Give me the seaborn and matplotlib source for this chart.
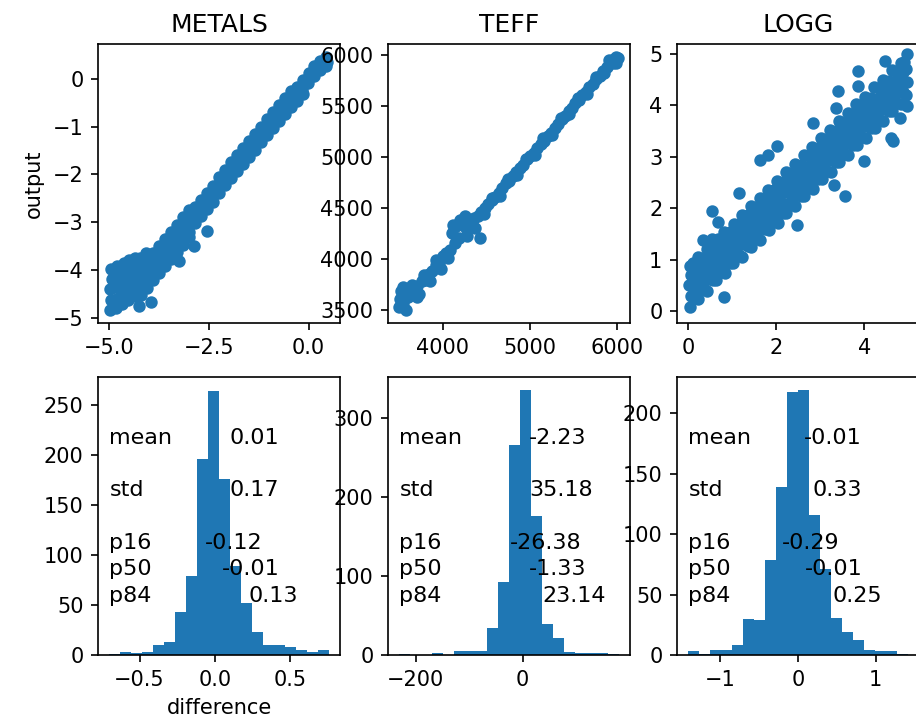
import numpy as np
import pandas as pd
import matplotlib
matplotlib.use("Agg")
import matplotlib.pyplot as plt
import seaborn as sns

# ---------------- data ----------------
panel_titles = ["METALS", "TEFF", "LOGG"]

metals_points = [
    # low end: wide blob
    (-4.97, -4.84), (-4.95, -4.62), (-4.98, -4.40), (-4.94, -4.18), (-4.96, -3.98),
    (-4.82, -4.80), (-4.78, -4.58), (-4.81, -4.35), (-4.79, -4.12), (-4.80, -3.92),
    (-4.67, -4.72), (-4.63, -4.50), (-4.65, -4.28), (-4.66, -4.05), (-4.64, -3.86),
    (-4.52, -4.62), (-4.48, -4.42), (-4.50, -4.20), (-4.49, -3.98), (-4.51, -3.80),
    (-4.37, -4.55), (-4.33, -4.35), (-4.35, -4.15), (-4.36, -3.95), (-4.34, -3.75),
    # lower-middle: broad band
    (-4.22, -3.75), (-4.20, -3.95), (-4.18, -4.10), (-4.21, -4.25), (-4.19, -4.40), (-4.20, -4.52),
    (-4.07, -3.65), (-4.05, -3.80), (-4.03, -3.95), (-4.06, -4.10), (-4.04, -4.25), (-4.05, -4.37),
    (-3.90, -3.65), (-3.88, -3.80), (-3.92, -3.95), (-3.89, -4.10), (-3.91, -4.22),
    (-3.75, -3.50), (-3.73, -3.65), (-3.77, -3.80), (-3.74, -3.95), (-3.76, -4.07),
    (-3.60, -3.35), (-3.58, -3.50), (-3.62, -3.65), (-3.59, -3.80), (-3.61, -3.92),
    (-3.45, -3.20), (-3.43, -3.35), (-3.47, -3.50), (-3.44, -3.65), (-3.46, -3.77),
    (-3.30, -3.05), (-3.28, -3.20), (-3.32, -3.35), (-3.29, -3.50), (-3.31, -3.62),
    (-3.15, -2.90), (-3.13, -3.05), (-3.17, -3.20), (-3.14, -3.35), (-3.16, -3.47),
    (-3.00, -2.75), (-2.98, -2.90), (-3.02, -3.05), (-2.99, -3.20), (-3.01, -3.32),
    # middle
    (-2.85, -2.69), (-2.83, -2.80), (-2.87, -2.91), (-2.84, -3.02),
    (-2.70, -2.54), (-2.68, -2.65), (-2.72, -2.76), (-2.69, -2.87),
    (-2.55, -2.39), (-2.53, -2.50), (-2.57, -2.61), (-2.54, -2.72),
    (-2.40, -2.24), (-2.38, -2.35), (-2.42, -2.46), (-2.39, -2.57),
    (-2.25, -2.05), (-2.23, -2.16), (-2.27, -2.27), (-2.24, -2.38),
    (-2.10, -1.90), (-2.08, -2.01), (-2.12, -2.12), (-2.09, -2.23),
    (-1.95, -1.75), (-1.93, -1.86), (-1.97, -1.97), (-1.94, -2.08),
    (-1.80, -1.60), (-1.78, -1.71), (-1.82, -1.82), (-1.79, -1.93),
    (-1.65, -1.45), (-1.63, -1.56), (-1.67, -1.67), (-1.64, -1.78),
    (-1.50, -1.30), (-1.48, -1.41), (-1.52, -1.52), (-1.49, -1.63),
    (-1.35, -1.15), (-1.33, -1.26), (-1.37, -1.37), (-1.34, -1.48),
    (-1.20, -1.00), (-1.18, -1.11), (-1.22, -1.22), (-1.19, -1.33),
    (-1.05, -0.85), (-1.03, -0.96), (-1.07, -1.07), (-1.04, -1.18),
    (-0.90, -0.70), (-0.88, -0.81), (-0.92, -0.92), (-0.89, -1.03),
    (-0.75, -0.55), (-0.73, -0.66), (-0.77, -0.77), (-0.74, -0.88),
    (-0.60, -0.40), (-0.58, -0.51), (-0.62, -0.62), (-0.59, -0.73),
    (-0.45, -0.25), (-0.43, -0.36), (-0.47, -0.47), (-0.44, -0.58),
    # top end: tapering
    (-0.30, -0.16), (-0.28, -0.27), (-0.32, -0.38), (-0.29, -0.47),
    (-0.15, -0.02), (-0.13, -0.13), (-0.17, -0.24), (-0.14, -0.31),
    (0.00, 0.13), (0.02, 0.02), (-0.02, -0.09),
    (0.15, 0.27), (0.17, 0.16), (0.13, 0.05),
    (0.30, 0.38), (0.32, 0.28), (0.28, 0.18),
    (0.45, 0.46), (0.47, 0.36), (0.43, 0.27),
    # isolated points below the band
    (-4.24, -4.76), (-3.96, -4.67), (-3.24, -3.81), (-2.86, -3.50), (-2.54, -3.18),
]

teff_points = [
    (3500, 3530), (3510, 3600), (3520, 3680), (3540, 3560), (3560, 3650), (3600, 3620),
    (3620, 3700), (3660, 3660), (3700, 3730), (3720, 3650), (3760, 3780), (3800, 3790),
    (3840, 3850), (3880, 3880), (3920, 3940), (3960, 3950), (4000, 4030), (4040, 4060),
    (4080, 4090), (4100, 4250), (4120, 4330), (4150, 4320), (4180, 4200), (4200, 4380),
    (4230, 4350), (4260, 4300), (4280, 4220), (4300, 4310), (4330, 4360), (4360, 4400),
    (4400, 4420), (4420, 4200), (4440, 4460), (4480, 4500), (4520, 4540), (4560, 4580),
    (4600, 4610), (4640, 4650), (4680, 4700), (4720, 4740), (4760, 4760), (4800, 4810),
    (4840, 4850), (4880, 4890), (4920, 4920), (4960, 4980), (5000, 5010), (5040, 5040),
    (5080, 5090), (5120, 5130), (5160, 5160), (5200, 5210), (5240, 5240), (5280, 5290),
    (5320, 5320), (5360, 5370), (5400, 5400), (5440, 5450), (5480, 5480), (5520, 5530),
    (5560, 5560), (5600, 5610), (5640, 5640), (5680, 5690), (5720, 5720), (5760, 5770),
    (5800, 5800), (5840, 5850), (5880, 5880), (5920, 5930), (5960, 5960), (5980, 5985),
    (5990, 5920), (5970, 5940),
    (3540, 3720), (3580, 3500), (3640, 3740), (3700, 3620), (3780, 3840), (3850, 3780),
    (3920, 3990), (3980, 3900), (4060, 4010), (4140, 4150), (4250, 4420), (4370, 4300),
    (4470, 4440), (4560, 4600), (4650, 4620), (4750, 4780), (4850, 4820), (4950, 4985),
    (5050, 5020), (5150, 5185), (5250, 5220), (5350, 5385), (5450, 5420), (5550, 5585),
    (5650, 5620), (5750, 5785), (5850, 5825), (5900, 5950), (5950, 5920), (6010, 5975),
]

logg_points = [
    (0.03, 0.08), (0.07, 0.30), (0.02, 0.50), (0.06, 0.70), (0.04, 0.88),
    (0.22, 0.24), (0.27, 0.45), (0.24, 0.68), (0.28, 0.84), (0.21, 1.05),
    (0.43, 0.40), (0.47, 0.63), (0.44, 0.80), (0.48, 1.02), (0.42, 1.20),
    (0.63, 0.60), (0.68, 0.77), (0.66, 0.99), (0.62, 1.17), (0.67, 1.40),
    (0.83, 0.74), (0.87, 0.96), (0.84, 1.14), (0.88, 1.36), (0.82, 1.53),
    (1.02, 0.93), (1.07, 1.10), (1.04, 1.32), (1.08, 1.50), (1.03, 1.70),
    (1.23, 1.06), (1.27, 1.30), (1.24, 1.47), (1.28, 1.69), (1.22, 1.86),
    (1.43, 1.25), (1.47, 1.42), (1.44, 1.65), (1.48, 1.83), (1.42, 2.05),
    (1.63, 1.39), (1.67, 1.61), (1.64, 1.80), (1.68, 2.01), (1.62, 2.19),
    (1.83, 1.58), (1.87, 1.76), (1.84, 1.98), (1.88, 2.16), (1.82, 2.36),
    (2.03, 1.72), (2.07, 1.94), (2.04, 2.12), (2.08, 2.34), (2.02, 2.52),
    (2.23, 1.91), (2.27, 2.09), (2.24, 2.31), (2.28, 2.49), (2.22, 2.70),
    (2.43, 2.05), (2.47, 2.27), (2.44, 2.45), (2.48, 2.67), (2.42, 2.85),
    (2.63, 2.23), (2.67, 2.41), (2.64, 2.63), (2.68, 2.81), (2.62, 3.03),
    (2.83, 2.38), (2.87, 2.60), (2.84, 2.78), (2.88, 3.00), (2.82, 3.18),
    (3.03, 2.56), (3.07, 2.74), (3.04, 2.96), (3.08, 3.14), (3.02, 3.36),
    (3.23, 2.71), (3.27, 2.93), (3.24, 3.11), (3.28, 3.33), (3.22, 3.51),
    (3.43, 2.89), (3.47, 3.07), (3.44, 3.29), (3.48, 3.47), (3.42, 3.69),
    (3.63, 3.04), (3.67, 3.26), (3.64, 3.44), (3.68, 3.66), (3.62, 3.84),
    (3.83, 3.22), (3.87, 3.40), (3.84, 3.62), (3.88, 3.80), (3.82, 4.02),
    (4.03, 3.37), (4.07, 3.59), (4.04, 3.77), (4.08, 3.99), (4.02, 4.17),
    (4.23, 3.55), (4.27, 3.73), (4.24, 3.95), (4.28, 4.13), (4.22, 4.35),
    (4.43, 3.70), (4.47, 3.92), (4.44, 4.10), (4.48, 4.32), (4.42, 4.50),
    (4.63, 3.88), (4.67, 4.06), (4.64, 4.28), (4.68, 4.46), (4.62, 4.68),
    (4.83, 4.03), (4.87, 4.25), (4.84, 4.43), (4.88, 4.65), (4.82, 4.83),
    # staggered rows filling the band
    (0.15, 0.27), (0.13, 0.47), (0.17, 0.67), (0.15, 0.87),
    (0.35, 0.44), (0.33, 0.64), (0.37, 0.84), (0.35, 1.04),
    (0.55, 0.60), (0.53, 0.80), (0.57, 1.00), (0.55, 1.20),
    (0.75, 0.77), (0.73, 0.97), (0.77, 1.17), (0.75, 1.37),
    (0.95, 0.93), (0.93, 1.13), (0.97, 1.33), (0.95, 1.53),
    (1.15, 1.09), (1.13, 1.29), (1.17, 1.49), (1.15, 1.69),
    (1.35, 1.26), (1.33, 1.46), (1.37, 1.66), (1.35, 1.86),
    (1.55, 1.42), (1.53, 1.62), (1.57, 1.82), (1.55, 2.02),
    (1.75, 1.59), (1.73, 1.79), (1.77, 1.99), (1.75, 2.19),
    (1.95, 1.75), (1.93, 1.95), (1.97, 2.15), (1.95, 2.35),
    (2.15, 1.91), (2.13, 2.11), (2.17, 2.31), (2.15, 2.51),
    (2.35, 2.08), (2.33, 2.28), (2.37, 2.48), (2.35, 2.68),
    (2.55, 2.24), (2.53, 2.44), (2.57, 2.64), (2.55, 2.84),
    (2.75, 2.41), (2.73, 2.61), (2.77, 2.81), (2.75, 3.01),
    (2.95, 2.57), (2.93, 2.77), (2.97, 2.97), (2.95, 3.17),
    (3.15, 2.73), (3.13, 2.93), (3.17, 3.13), (3.15, 3.33),
    (3.35, 2.90), (3.33, 3.10), (3.37, 3.30), (3.35, 3.50),
    (3.55, 3.06), (3.53, 3.26), (3.57, 3.46), (3.55, 3.66),
    (3.75, 3.23), (3.73, 3.43), (3.77, 3.63), (3.75, 3.83),
    (3.95, 3.39), (3.93, 3.59), (3.97, 3.79), (3.95, 3.99),
    (4.15, 3.55), (4.13, 3.75), (4.17, 3.95), (4.15, 4.15),
    (4.35, 3.72), (4.33, 3.92), (4.37, 4.12), (4.35, 4.32),
    (4.55, 3.88), (4.53, 4.08), (4.57, 4.28), (4.55, 4.48),
    (4.75, 4.05), (4.73, 4.25), (4.77, 4.45), (4.75, 4.65),
    # right edge and scattered points
    (4.96, 4.99), (4.95, 4.70), (4.97, 4.45), (4.94, 4.20), (4.96, 3.99), (4.90, 4.85),
    (3.86, 4.66), (4.47, 4.86), (4.66, 3.30), (4.60, 3.36), (4.81, 3.76), (3.98, 2.91),
    (3.56, 2.23), (3.30, 2.46), (2.46, 1.68), (2.01, 3.20), (1.63, 2.94), (1.82, 3.04),
    (1.14, 2.29), (0.53, 1.94), (0.68, 1.74), (0.34, 1.38), (0.53, 1.41), (0.11, 0.93),
    (0.80, 0.28), (2.84, 3.66), (3.41, 4.27), (3.86, 4.37), (3.35, 3.95),
]

# histogram of differences: 20 equal bins between min and max
metals_diff_range = (-0.703, 0.756)
metals_diff_counts = [1, 3, 2, 3, 10, 13, 43, 79, 196, 264, 176, 89, 52, 23, 10, 10, 8, 5, 3, 5]
teff_diff_range = (-231.4, 180.4)
teff_diff_counts = [1, 0, 0, 2, 0, 5, 5, 5, 34, 92, 266, 335, 176, 39, 21, 4, 2, 2, 2, 1]
logg_diff_range = (-1.412, 1.417)
logg_diff_counts = [3, 1, 4, 4, 8, 30, 29, 79, 139, 218, 219, 116, 71, 31, 19, 12, 4, 3, 3, 1]

stat_names = ["mean", "std", "p16", "p50", "p84"]
metals_stats = ["0.01", "0.17", "-0.12", "-0.01", "0.13"]
teff_stats = ["-2.23", "35.18", "-26.38", "-1.33", "23.14"]
logg_stats = ["-0.01", "0.33", "-0.29", "-0.01", "0.25"]

# ---------------- layout ----------------
W, H, DPI = 916, 727, 150
fig = plt.figure(figsize=(W / DPI, H / DPI), dpi=DPI)
fig.patch.set_facecolor("white")

def px_axes(x0, y0, w, h):
    return fig.add_axes([x0 / W, 1 - (y0 + h) / H, w / W, h / H])

col_x = [98, 388, 677]
col_w = 242
top_y, top_h = 44, 279
bot_y, bot_h = 377, 278
blue = "#1f77b4"

scatter_sets = [metals_points, teff_points, logg_points]
scatter_xlim = [(-5.28, 0.79), (3370, 6145), (-0.257, 5.24)]
scatter_ylim = [(-5.11, 0.73), (3368, 6111), (-0.23, 5.19)]
scatter_xticks = [[-5.0, -2.5, 0.0], [4000, 5000, 6000], [0, 2, 4]]
scatter_yticks = [[-5, -4, -3, -2, -1, 0], [3500, 4000, 4500, 5000, 5500, 6000], [0, 1, 2, 3, 4, 5]]

hist_ranges = [metals_diff_range, teff_diff_range, logg_diff_range]
hist_counts = [metals_diff_counts, teff_diff_counts, logg_diff_counts]
hist_xlim = [(-0.776, 0.829), (-252, 201), (-1.553, 1.558)]
hist_ylim = [(0, 278), (0, 352), (0, 230)]
hist_xticks = [[-0.5, 0.0, 0.5], [-200, 0], [-1, 0, 1]]
hist_yticks = [[0, 50, 100, 150, 200, 250], [0, 100, 200, 300], [0, 50, 100, 150, 200]]
stat_sets = [metals_stats, teff_stats, logg_stats]
stat_value_x = [[0.545, 0.543, 0.442, 0.511, 0.621],
                [0.583, 0.583, 0.505, 0.583, 0.636],
                [0.525, 0.559, 0.432, 0.530, 0.643]]
stat_y = [0.76, 0.572, 0.38, 0.288, 0.19]

for i in range(3):
    # --- top: output vs truth scatter ---
    ax = px_axes(col_x[i], top_y, col_w, top_h)
    xs = [p[0] for p in scatter_sets[i]]
    ys = [p[1] for p in scatter_sets[i]]
    sns.scatterplot(x=xs, y=ys, ax=ax, s=20, color=blue, edgecolor=blue,
                    linewidth=1.5, legend=False)
    ax.set_xlim(*scatter_xlim[i])
    ax.set_ylim(*scatter_ylim[i])
    ax.set_xticks(scatter_xticks[i])
    ax.set_yticks(scatter_yticks[i])
    ax.set_title(panel_titles[i], fontsize=12)
    if i == 0:
        ax.set_ylabel("output")

    # --- bottom: difference histogram ---
    axh = px_axes(col_x[i], bot_y, col_w, bot_h)
    lo, hi = hist_ranges[i]
    nb = len(hist_counts[i])
    width = (hi - lo) / nb
    centers = [lo + (k + 0.5) * width for k in range(nb)]
    df = pd.DataFrame({"diff": centers, "count": hist_counts[i]})
    sns.histplot(data=df, x="diff", weights="count", bins=nb, binrange=(lo, hi), ax=axh,
                 color=blue, alpha=1.0, linewidth=0, element="bars", fill=True)
    axh.set_xlim(*hist_xlim[i])
    axh.set_ylim(*hist_ylim[i])
    axh.set_xticks(hist_xticks[i])
    axh.set_yticks(hist_yticks[i])
    axh.set_ylabel("")
    axh.set_xlabel("difference" if i == 0 else "")
    for name, val, vx, vy in zip(stat_names, stat_sets[i], stat_value_x[i], stat_y):
        axh.text(0.047, vy, name, transform=axh.transAxes, fontsize=10.7, ha="left", va="baseline")
        axh.text(vx, vy, val, transform=axh.transAxes, fontsize=10.7, ha="left", va="baseline")

fig.savefig("out.png", dpi=DPI, facecolor="white")
